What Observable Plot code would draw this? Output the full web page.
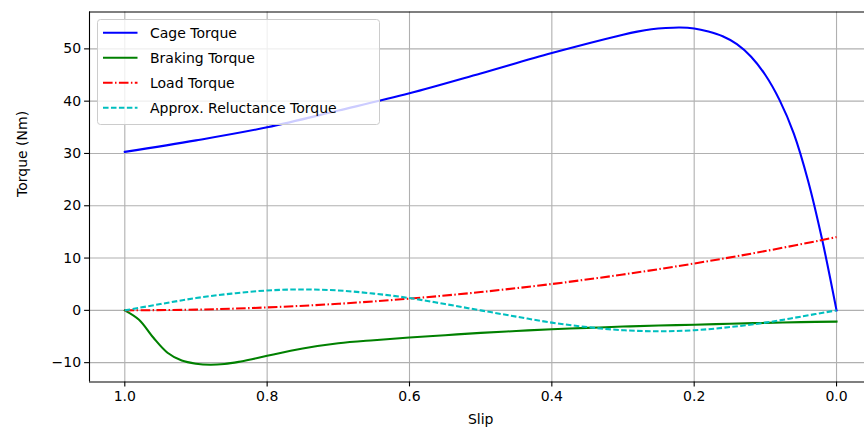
<!DOCTYPE html>
<html>
<head>
<meta charset="utf-8">
<script src="https://cdn.jsdelivr.net/npm/d3@7"></script>
<script src="https://cdn.jsdelivr.net/npm/@observablehq/plot@0.6"></script>
<style>
  html, body { margin: 0; padding: 0; background: white; }
  #chart { width: 864px; height: 434px; overflow: hidden; }
</style>
</head>
<body>
<div id="chart"></div>
<script>
// ---- data ----
const seriesNames = ["Cage Torque", "Braking Torque", "Load Torque", "Approx. Reluctance Torque"];
const seriesColors = ["#0000ff", "#008000", "#ff0000", "#00bfbf"];
const seriesDash = [null, null, "9.6,2.4,1.5,2.4", "5.55,2.4"];

const slipCage = [1.0, 0.9, 0.8, 0.7, 0.6, 0.5, 0.4, 0.3, 0.28, 0.26, 0.24, 0.22, 0.2, 0.18, 0.16, 0.14, 0.12, 0.1, 0.08, 0.06, 0.04, 0.02, 0.0];
const cageTorque = [30.3, 32.5, 35.0, 38.2, 41.5, 45.3, 49.2, 52.7, 53.3, 53.75, 54.0, 54.1, 53.9, 53.3, 52.4, 50.9, 48.5, 45.0, 40.2, 33.8, 24.8, 13.4, 0.0];

const slipBrake = [1.0, 0.98, 0.96, 0.94, 0.92, 0.9, 0.88, 0.86, 0.84, 0.82, 0.8, 0.75, 0.7, 0.65, 0.6, 0.55, 0.5, 0.45, 0.4, 0.35, 0.3, 0.25, 0.2, 0.15, 0.1, 0.05, 0.0];
const brakingTorque = [0.0, -1.8, -5.2, -8.1, -9.6, -10.2, -10.4, -10.25, -9.85, -9.3, -8.7, -7.3, -6.3, -5.7, -5.2, -4.75, -4.3, -3.95, -3.6, -3.35, -3.1, -2.9, -2.75, -2.55, -2.4, -2.25, -2.15];

const slipLoad = [1.0, 0.9, 0.8, 0.7, 0.6, 0.5, 0.4, 0.3, 0.2, 0.1, 0.0];
const loadTorque = [0.0, 0.14, 0.56, 1.26, 2.24, 3.5, 5.04, 6.86, 8.96, 11.34, 14.0];

const slipRel = [1.0, 0.95, 0.9, 0.85, 0.8, 0.75, 0.7, 0.65, 0.6, 0.55, 0.5, 0.45, 0.4, 0.35, 0.3, 0.25, 0.2, 0.15, 0.1, 0.05, 0.0];
const reluctanceTorque = [0.0, 1.2, 2.35, 3.2, 3.8, 4.0, 3.8, 3.2, 2.35, 1.2, 0.0, -1.2, -2.35, -3.2, -3.8, -4.0, -3.8, -3.2, -2.35, -1.2, 0.0];

const xTicks = [1.0, 0.8, 0.6, 0.4, 0.2, 0.0];
const yTicks = [-10, 0, 10, 20, 30, 40, 50];
const xDomain = [1.0496, -0.0393];
const yDomain = [-13.7, 57.05];
const xLabel = "Slip";
const yLabel = "Torque (Nm)";

// ---- build table ----
const toRows = (xs, ys, name) => xs.map((s, i) => ({ slip: s, torque: ys[i], series: name }));
const seriesRows = [
  toRows(slipCage, cageTorque, seriesNames[0]),
  toRows(slipBrake, brakingTorque, seriesNames[1]),
  toRows(slipLoad, loadTorque, seriesNames[2]),
  toRows(slipRel, reluctanceTorque, seriesNames[3])
];

const font = "DejaVu Sans, sans-serif";
const lw = 2.08;

const lineMarks = seriesRows.map((rows, i) =>
  Plot.line(rows, {
    x: "slip", y: "torque",
    stroke: seriesColors[i], strokeWidth: lw,
    strokeDasharray: seriesDash[i] || undefined,
    strokeLinecap: seriesDash[i] ? "butt" : "square",
    curve: "catmull-rom"
  })
);

const chart = Plot.plot({
  width: 864, height: 434,
  marginLeft: 89, marginRight: 0, marginTop: 11.5, marginBottom: 52.5,
  style: { fontFamily: font, fontSize: "14px", color: "#000", background: "white", overflow: "hidden" },
  x: { domain: xDomain, label: null },
  y: { domain: yDomain, label: null },
  marks: [
    Plot.ruleX(xTicks, { x: d => d, stroke: "#b0b0b0", strokeWidth: 1.1 }),
    Plot.ruleY(yTicks, { y: d => d, stroke: "#b0b0b0", strokeWidth: 1.1 }),
    ...lineMarks,
    Plot.ruleX([xDomain[0]], { x: d => d, stroke: "#000", strokeWidth: 1.1 }),
    Plot.ruleY([yDomain[0]], { y: d => d, stroke: "#000", strokeWidth: 1.1 }),
    Plot.ruleY([yDomain[1]], { y: d => d, stroke: "#000", strokeWidth: 1.1 }),
    Plot.axisX(xTicks, { tickSize: 4.9, tickPadding: 4.5, tickFormat: d3.format(".1f"), fontSize: 14, stroke: "#000", strokeWidth: 1.1, label: null }),
    Plot.axisY(yTicks, { tickSize: 4.9, tickPadding: 3.5, tickFormat: d => (d < 0 ? "\u2212" + Math.abs(d) : String(d)), fontSize: 14, stroke: "#000", strokeWidth: 1.1, label: null }),
    Plot.text([xLabel], { x: () => 0.5, frameAnchor: "bottom", dy: 42, fontSize: 14, fill: "#000", text: d => d }),
    Plot.text([yLabel], { frameAnchor: "left", dx: -67, rotate: -90, fontSize: 14, fill: "#000", text: d => d })
  ]
});

// ---- legend inside axes (upper left) ----
const svg = d3.select(chart);
const lg = svg.append("g").attr("font-family", font).attr("font-size", 14).attr("text-anchor", "start");
lg.append("rect")
  .attr("x", 97.5).attr("y", 19.5).attr("width", 282).attr("height", 105)
  .attr("rx", 3).attr("ry", 3)
  .attr("fill", "white").attr("fill-opacity", 0.8)
  .attr("stroke", "#cccccc").attr("stroke-width", 1);
seriesNames.forEach((name, i) => {
  const yy = 32.7 + i * 25;
  lg.append("line")
    .attr("x1", 103).attr("x2", 137.5).attr("y1", yy).attr("y2", yy)
    .attr("stroke", seriesColors[i]).attr("stroke-width", lw)
    .attr("stroke-dasharray", seriesDash[i] || null)
    .attr("stroke-linecap", "butt");
  lg.append("text")
    .attr("x", 150).attr("y", yy).attr("dy", "0.36em")
    .attr("text-anchor", "start")
    .attr("fill", "#000").text(name);
});

document.getElementById("chart").appendChild(chart);
</script>
</body>
</html>
